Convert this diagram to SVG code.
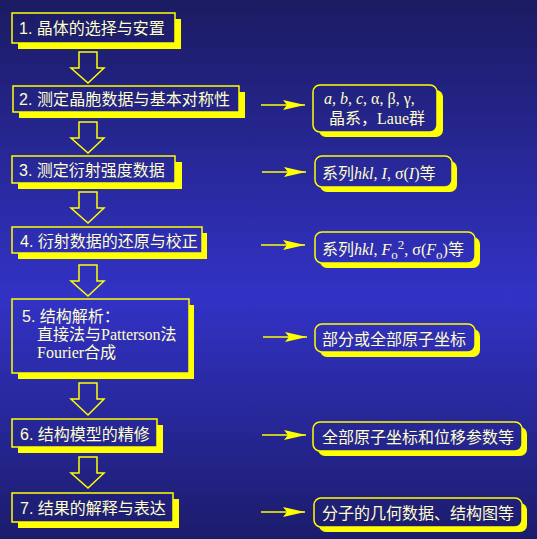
<svg xmlns="http://www.w3.org/2000/svg" width="537" height="539" viewBox="0 0 537 539">
<defs>
<linearGradient id="bg" gradientUnits="userSpaceOnUse" x1="0" y1="0" x2="0" y2="539">
<stop offset="0" stop-color="#1b1b62"/>
<stop offset="0.55" stop-color="#3232c6"/>
<stop offset="1" stop-color="#1c1c6c"/>
</linearGradient>
<marker id="ah" markerUnits="userSpaceOnUse" markerWidth="24" markerHeight="12" refX="22" refY="6" orient="auto">
<path d="M0,1 L22,6 L0,11 L4,6 Z" fill="#ffff00"/>
</marker>
</defs>
<style>
.sh{fill:#ffff00;}
.bx{fill:url(#bg);stroke:#ffff00;stroke-width:1.5;}
.t{fill:#ffffcc;font-family:"Liberation Sans","Noto Sans CJK SC",sans-serif;font-size:16px;}
.s{fill:#ffffcc;font-family:"Liberation Serif","Noto Sans CJK SC",serif;font-size:16px;}
.cj{font-family:"Noto Sans CJK SC",sans-serif;}
.i{font-style:italic;}
.ha{fill:none;stroke:#ffff00;stroke-width:1.5;}
.ln{stroke:#ffff00;stroke-width:1.5;fill:none;}
</style>
<rect x="0" y="0" width="537" height="539" fill="url(#bg)"/>

<g id="step1">
<rect class="sh" x="18" y="19" width="163" height="30"/>
<rect class="bx" x="12" y="13" width="163" height="30"/>
<text class="t" x="19" y="34">1. 晶体的选择与安置</text>
</g>
<g id="step2">
<rect class="sh" x="19" y="92" width="226" height="26"/>
<rect class="bx" x="13" y="86" width="226" height="26"/>
<text class="t" x="19" y="105" textLength="211" lengthAdjust="spacing">2. 测定晶胞数据与基本对称性</text>
</g>
<g id="step3">
<rect class="sh" x="18" y="162" width="164" height="27"/>
<rect class="bx" x="12" y="156" width="163" height="27"/>
<text class="t" x="19" y="176">3. 测定衍射强度数据</text>
</g>
<g id="step4">
<rect class="sh" x="18" y="233" width="189" height="26"/>
<rect class="bx" x="12" y="227" width="190" height="26"/>
<text class="t" x="20" y="247">4. 衍射数据的还原与校正</text>
</g>
<g id="step5">
<rect class="sh" x="18" y="305" width="176" height="74"/>
<rect class="bx" x="12" y="299" width="177" height="74"/>
<text class="t" x="22" y="322">5. 结构解析：</text>
<text class="s" x="37" y="340"><tspan class="cj">直接法与</tspan>Patterson<tspan class="cj">法</tspan></text>
<text class="s" x="37" y="358">Fourier<tspan class="cj">合成</tspan></text>
</g>
<g id="step6">
<rect class="sh" x="18" y="425" width="145" height="28"/>
<rect class="bx" x="12" y="419" width="145" height="28"/>
<text class="t" x="20" y="440">6. 结构模型的精修</text>
</g>
<g id="step7">
<rect class="sh" x="18" y="499" width="161" height="29"/>
<rect class="bx" x="12" y="493" width="161" height="29"/>
<text class="t" x="20" y="514">7. 结果的解释与表达</text>
</g>

<g id="res1">
<rect class="sh" x="319" y="90" width="124" height="47" rx="7"/>
<rect class="bx" x="313" y="85" width="124" height="47" rx="7"/>
<text class="s" x="324" y="104"><tspan class="i">a</tspan>, <tspan class="i">b</tspan>, <tspan class="i">c</tspan>, α, β, γ,</text>
<text class="s" x="329" y="124"><tspan class="cj">晶系，</tspan>Laue<tspan class="cj">群</tspan></text>
</g>
<g id="res2">
<rect class="sh" x="320" y="161" width="137" height="31" rx="7"/>
<rect class="bx" x="315" y="156" width="137" height="31" rx="7"/>
<text class="s" x="322" y="179"><tspan class="cj">系列</tspan><tspan class="i">hkl</tspan>, <tspan class="i">I</tspan>, σ(<tspan class="i">I</tspan>)<tspan class="cj">等</tspan></text>
</g>
<g id="res3">
<rect class="sh" x="320" y="237" width="160" height="31" rx="7"/>
<rect class="bx" x="315" y="232" width="160" height="31" rx="7"/>
<text class="s" x="322" y="255"><tspan class="cj">系列</tspan><tspan class="i">hkl</tspan>, <tspan class="i">F</tspan><tspan dy="4" style="font-size:13px">o</tspan><tspan dy="-10" style="font-size:13px">2</tspan><tspan dy="6">, σ(</tspan><tspan class="i">F</tspan><tspan dy="4" style="font-size:13px">o</tspan><tspan dy="-4">)</tspan><tspan class="cj">等</tspan></text>
</g>
<g id="res4">
<rect class="sh" x="320" y="329" width="160" height="28" rx="7"/>
<rect class="bx" x="315" y="324" width="160" height="28" rx="7"/>
<text class="t" x="322" y="345">部分或全部原子坐标</text>
</g>
<g id="res5">
<rect class="sh" x="318" y="427" width="209" height="29" rx="7"/>
<rect class="bx" x="313" y="422" width="209" height="29" rx="7"/>
<text class="t" x="322" y="443">全部原子坐标和位移参数等</text>
</g>
<g id="res6">
<rect class="sh" x="319" y="503" width="208" height="29" rx="7"/>
<rect class="bx" x="314" y="498" width="208" height="29" rx="7"/>
<text class="t" x="322" y="519">分子的几何数据、结构图等</text>
</g>

<g id="connectors">
<polygon class="ha" points="79,52 97,52 97,68 104,68 88,83 71,68 79,68"/>
<polygon class="ha" points="79,122 97,122 97,138 104,138 88,153 71,138 79,138"/>
<polygon class="ha" points="79,192 97,192 97,208 104,208 88,223 71,208 79,208"/>
<polygon class="ha" points="79,265 97,265 97,281 104,281 88,296 71,281 79,281"/>
<polygon class="ha" points="79,383 97,383 97,399 104,399 88,415 71,399 79,399"/>
<polygon class="ha" points="79,457 97,457 97,473 104,473 88,488 71,473 79,473"/>
<line class="ln" x1="261" y1="105" x2="305" y2="105" marker-end="url(#ah)"/>
<line class="ln" x1="262" y1="172" x2="306" y2="172" marker-end="url(#ah)"/>
<line class="ln" x1="261" y1="245" x2="305" y2="245" marker-end="url(#ah)"/>
<line class="ln" x1="263" y1="337" x2="307" y2="337" marker-end="url(#ah)"/>
<line class="ln" x1="262" y1="435" x2="306" y2="435" marker-end="url(#ah)"/>
<line class="ln" x1="261" y1="512" x2="305" y2="512" marker-end="url(#ah)"/>
</g>
</svg>
